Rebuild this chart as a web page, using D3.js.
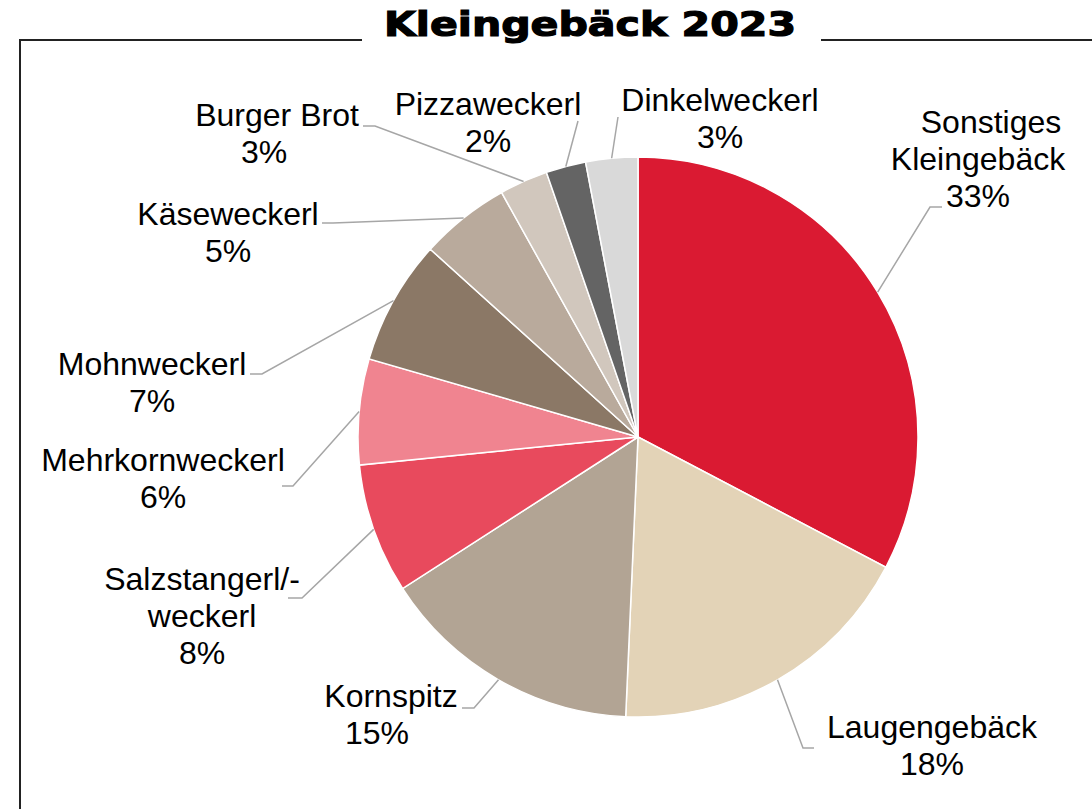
<!DOCTYPE html>
<html>
<head>
<meta charset="utf-8">
<script src="https://cdn.jsdelivr.net/npm/d3@7"></script>
<style>
  html, body { margin: 0; padding: 0; background: #fff; }
  svg { display: block; }
</style>
</head>
<body>
<svg id="chart" width="1092" height="809"></svg>
<script>
// ---- data ----
const categories = ["Sonstiges Kleingebäck", "Laugengebäck", "Kornspitz", "Salzstangerl/-weckerl",
  "Mehrkornweckerl", "Mohnweckerl", "Käseweckerl", "Burger Brot", "Pizzaweckerl", "Dinkelweckerl"];
const values = [32.7, 18.0, 15.2, 7.5, 6.1, 7.2, 5.2, 2.8, 2.3, 3.0];
const labelLines = [["Sonstiges", "Kleingebäck"], ["Laugengebäck"], ["Kornspitz"], ["Salzstangerl/-", "weckerl"],
  ["Mehrkornweckerl"], ["Mohnweckerl"], ["Käseweckerl"], ["Burger Brot"], ["Pizzaweckerl"], ["Dinkelweckerl"]];
const colors = ["#DA1A32", "#E3D3B7", "#B2A494", "#E84A5D", "#F08490", "#8B7866", "#B9AA9C", "#D1C7BD", "#646464", "#D9D9D9"];
const title = "Kleingebäck 2023";

// ---- layout (label anchors / leader elbows) ----
const labelLayout = [
  { ex: 930, ey: 207, tx: 942, cx: 978, y0: 133, dx0: 13 },
  { ex: 803, ey: 748, tx: 814, cx: 932, y0: 738, dx0: 0 },
  { ex: 474, ey: 708, tx: 462, cx: 377, y0: 707, dx0: 14 },
  { ex: 302, ey: 598, tx: 288, cx: 202, y0: 590, dx0: 0 },
  { ex: 293, ey: 486, tx: 282, cx: 163, y0: 471, dx0: 0 },
  { ex: 262, ey: 374, tx: 250, cx: 152, y0: 375, dx0: 0 },
  { ex: 333, ey: 223, tx: 322, cx: 228, y0: 225, dx0: 0 },
  { ex: 375, ey: 126, tx: 363, cx: 264, y0: 126, dx0: 13 },
  { ex: 578, ey: 121, tx: 578, cx: 488, y0: 115, dx0: 0 },
  { ex: 618, ey: 117, tx: 618, cx: 720, y0: 111, dx0: 0 }
];

const svg = d3.select("#chart");
const cx = 638, cy = 437, R = 280;
const lineH = 37;

// frame
svg.append("path")
  .attr("d", "M362,40 H20 V812 M821,40 H1095")
  .attr("fill", "none").attr("stroke", "#222").attr("stroke-width", 2);

// title
svg.append("text")
  .attr("x", 590).attr("y", 36)
  .attr("text-anchor", "middle")
  .attr("font-family", "DejaVu Sans, Liberation Sans, Arial, sans-serif")
  .attr("font-weight", "bold")
  .attr("font-size", 34)
  .attr("textLength", 412)
  .attr("lengthAdjust", "spacingAndGlyphs")
  .attr("fill", "#000")
  .attr("stroke", "#000")
  .attr("stroke-width", 1.2)
  .text(title);

const total = d3.sum(values);
const data = categories.map((c, i) => ({ name: c, value: values[i], i }));
const pie = d3.pie().value(d => d.value).sort(null);
const arcs = pie(data);
const arc = d3.arc().innerRadius(0).outerRadius(R);

const g = svg.append("g").attr("transform", `translate(${cx},${cy})`);
g.selectAll("path.slice").data(arcs).enter().append("path")
  .attr("class", "slice")
  .attr("d", arc)
  .attr("fill", d => colors[d.data.i])
  .attr("stroke", "#fff").attr("stroke-width", 1.5);

// leader lines
arcs.forEach(d => {
  const L = labelLayout[d.data.i];
  const a = (d.startAngle + d.endAngle) / 2;
  const sx = cx + R * Math.sin(a), sy = cy - R * Math.cos(a);
  svg.append("polyline")
    .attr("points", `${sx},${sy} ${L.ex},${L.ey} ${L.tx},${L.ey}`)
    .attr("fill", "none").attr("stroke", "#A6A6A6").attr("stroke-width", 1.5);
});

// labels
arcs.forEach(d => {
  const i = d.data.i;
  const L = labelLayout[i];
  const pct = Math.round(d.data.value / total * 100) + "%";
  const lines = labelLines[i].concat([pct]);
  const t = svg.append("text")
    .attr("text-anchor", "middle")
    .attr("font-family", "Liberation Sans, Arial, sans-serif")
    .attr("font-size", 32)
    .attr("fill", "#000");
  lines.forEach((ln, k) => {
    t.append("tspan")
      .attr("x", L.cx + (k === 0 ? L.dx0 : 0))
      .attr("y", L.y0 + k * lineH)
      .text(ln);
  });
});
</script>
</body>
</html>
